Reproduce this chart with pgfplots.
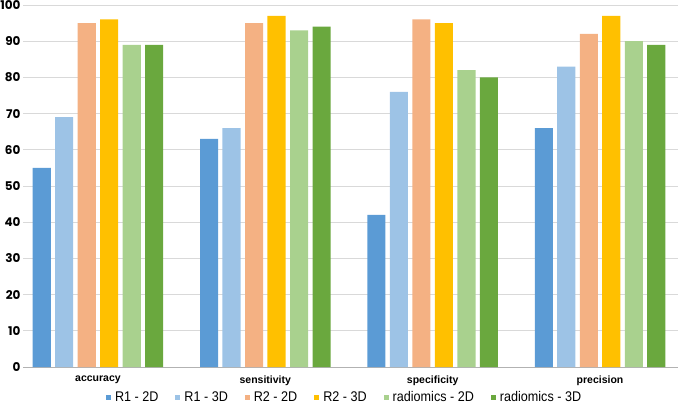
\documentclass[border=0pt]{standalone}
\usepackage{pgfplots}
\pgfplotsset{compat=1.18}
\usepackage{fontspec}
\setmainfont{Liberation Sans}
\newfontfamily\tickfont{Poppins}
\newfontfamily\legfont[FakeStretch=0.9]{Liberation Sans}
\definecolor{cA}{HTML}{5B9BD5}
\definecolor{cB}{HTML}{9DC3E6}
\definecolor{cC}{HTML}{F4B183}
\definecolor{cD}{HTML}{FFC000}
\definecolor{cE}{HTML}{A9D18E}
\definecolor{cF}{HTML}{6AA83E}
\pgfplotstableread{
x a b c d e f
0 55 69 95 96 89 89
1 63 66 95 97 93 94
2 42 76 96 95 82 80
3 66 83 92 97 90 89
}\datatab
\begin{document}
\begin{tikzpicture}[x=1pt,y=1pt]
\useasboundingbox (0,0) rectangle (684,404);
\begin{axis}[
  at={(23pt,37pt)}, anchor=south west,
  width=655pt, height=362pt, scale only axis,
  xmin=-0.448, xmax=3.466, ymin=0, ymax=100,
  ytick={0,10,...,100},
  xtick={0,1,2,3},
  xticklabels={accuracy,sensitivity,specificity,precision},
  axis x line*=bottom,
  axis y line*=left,
  x axis line style={draw=black!30, line width=0.9pt, -},
  y axis line style={draw=none},
  ymajorgrids, grid style={draw=black!15, line width=0.8pt},
  major tick length=0pt,
  xtick style={draw=none},
  ytick style={draw=none},
  xticklabel style={font=\fontsize{10.5}{12}\selectfont\bfseries, yshift=-5pt},
  yticklabel style={font=\fontsize{12}{14}\tickfont\bfseries, xshift=1pt},
  /pgf/number format/assume math mode=true,
  bar width=0.108,
  ybar,
  legend style={at={(0.491,-0.083)}, anchor=center, draw=none, fill=none,
    legend columns=6, font=\fontsize{14}{16}\legfont,
    /tikz/every even column/.append style={column sep=15pt},
    /tikz/every odd column/.append style={column sep=2pt},
    inner sep=0pt, cells={anchor=west}},
  legend image code/.code={\fill[#1] (0pt,-2.5pt) rectangle (5pt,2.5pt);},
  clip=false,
]
\addplot[fill=cA, draw=none, bar shift=-0.336] table[x=x,y=a]{\datatab};
\addplot[fill=cB, draw=none, bar shift=-0.202] table[x=x,y=b]{\datatab};
\addplot[fill=cC, draw=none, bar shift=-0.067] table[x=x,y=c]{\datatab};
\addplot[fill=cD, draw=none, bar shift=0.067] table[x=x,y=d]{\datatab};
\addplot[fill=cE, draw=none, bar shift=0.202] table[x=x,y=e]{\datatab};
\addplot[fill=cF, draw=none, bar shift=0.336] table[x=x,y=f]{\datatab};
\legend{R1 - 2D, R1 - 3D, R2 - 2D, R2 - 3D, radiomics - 2D, radiomics - 3D}
\end{axis}
\end{tikzpicture}
\end{document}
